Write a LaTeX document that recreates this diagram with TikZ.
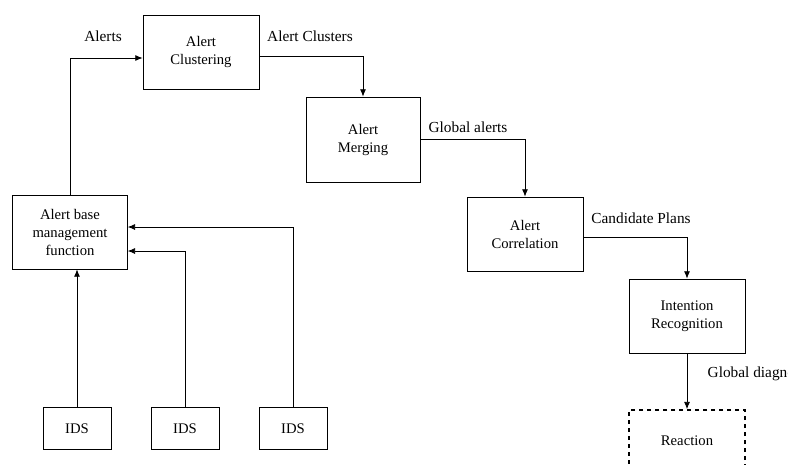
\documentclass[tikz,border=0pt]{standalone}
\usepackage{fontspec}
\setmainfont{Liberation Serif}
\usetikzlibrary{positioning,arrows.meta}

\tikzset{
  stagebox/.style={draw, line width=0.6pt, minimum width=87pt, minimum height=55.5pt, align=center, inner sep=2pt},
  idsbox/.style={draw, line width=0.6pt, minimum width=51pt, minimum height=32pt},
  flow/.style={line width=0.6pt, -{Latex[length=5.5pt,width=4.5pt]}},
  flowlabel/.style={font=\fontsize{11.5}{13.5}\selectfont}
}

\begin{document}
\begin{tikzpicture}[x=0.75pt,y=-0.75pt, font=\fontsize{11}{13.5}\selectfont]
			\useasboundingbox (0,0) rectangle (788,464);
			\clip (0,0) rectangle (788,464);

			% Draw the processing stages
			\node[stagebox] (clust) at (201,52) {Alert\\Clustering};
			\node[stagebox, minimum width=85.5pt, minimum height=63.75pt] (merge) at (363,139.5) {Alert\\Merging};
			\node[stagebox] (correl) at (525,234) {Alert\\Correlation};
			\node[stagebox] (intent) at (687,316) {Intention\\Recognition};
			\node[stagebox, dashed, line width=1.2pt, minimum height=46.5pt] (react) at (687,441) {Reaction};

			\node[stagebox, minimum width=86pt] (abmf) at (70,232) {Alert base\\management\\function};

			% Draw the sensors
			\node[idsbox] (ids1) at (77,428.5) {IDS};
			\node[idsbox] (ids2) at (185,428.5) {IDS};
			\node[idsbox] (ids3) at (293,428.5) {IDS};

			% Sensors to alert base
			\draw[flow] (ids1.north) -- (ids1.north |- abmf.south);
			\draw[flow] (ids2.north) |- ([yshift=-14.25pt]abmf.east);
			\draw[flow] (ids3.north) |- ([yshift=3.75pt]abmf.east);

			% Pipeline
			\draw[flow] (abmf.north) |- ([yshift=-4.5pt]clust.west);
			\draw[flow] ([yshift=-3pt]clust.east) -| (merge.north);
			\draw[flow] ([yshift=0pt]merge.east) -| (correl.north);
			\draw[flow] ([yshift=-2.25pt]correl.east) -| (intent.north);
			\draw[flow] (intent.south) -- (react.north);

			% Labels on the connectors
			\node[flowlabel] (lalerts) at (103,36) {Alerts};
			\node[flowlabel] (lclust) at (310,36) {Alert Clusters};
			\node[flowlabel] (lglobal) at (468,127) {Global alerts};
			\node[flowlabel] (lcand) at (641,218) {Candidate Plans};
			\node[flowlabel, anchor=west] (ldiag) at (703,374) {Global diagnosis};
		\end{tikzpicture}
\end{document}
